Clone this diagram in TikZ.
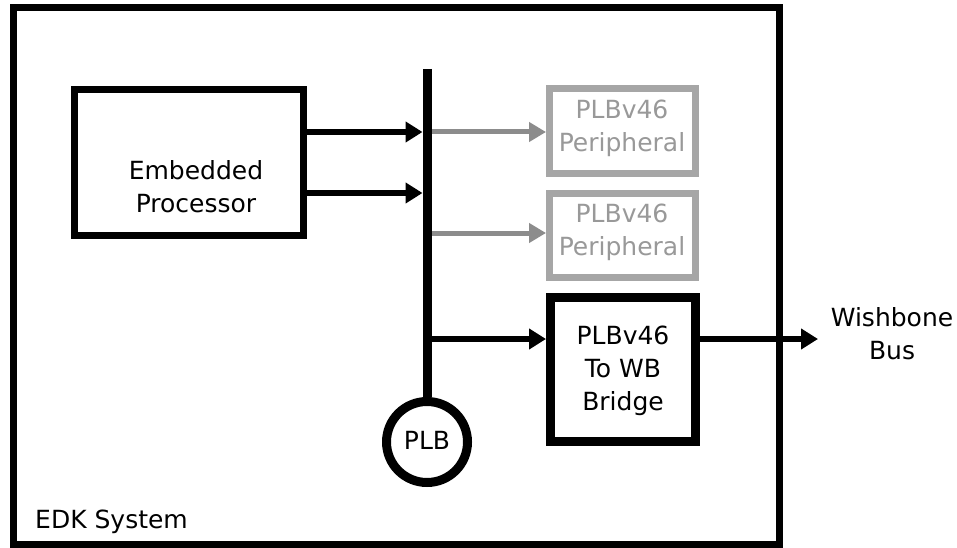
\documentclass[tikz,border=0pt]{standalone}
\usepackage{fontspec}
\setmainfont{DejaVu Sans}
\usetikzlibrary{arrows.meta}
\definecolor{lgray}{HTML}{8C8C8C}
\definecolor{bgray}{HTML}{A6A6A6}
\definecolor{tgray}{HTML}{999999}
\tikzset{
  lbl/.style={font=\fontsize{25}{33}\selectfont, align=center, inner sep=0pt},
  blkbox/.style={draw=black, line width=#1, fill=white, inner sep=0pt},
  grybox/.style={draw=bgray, line width=7pt, fill=white, inner sep=0pt},
  arr/.style={line width=6pt, -{Triangle[length=17pt,width=20pt]}},
  garr/.style={draw=lgray, line width=5pt, -{Triangle[length=17pt,width=19pt]}},
}
\begin{document}
\begin{tikzpicture}[x=1pt,y=-1pt]
\useasboundingbox (0,0) rectangle (957,548);
% outer frame
\draw[line width=7pt] (13,7.5) rectangle (779,544.5);
\node[lbl, anchor=base west] (edk) at (35,528) {EDK System};
% boxes
\node[blkbox=7pt, minimum width=229pt, minimum height=146pt] (proc) at (189,162.5) {};
\node[lbl] (proctxt) at (196,187) {Embedded\\Processor};
\node[grybox, minimum width=146pt, minimum height=85pt] (p1) at (622.5,131) {};
\node[lbl, text=tgray] (p1txt) at (622,128.5) {PLBv46\\Peripheral};
\node[grybox, minimum width=146pt, minimum height=84pt] (p2) at (622.5,235.5) {};
\node[lbl, text=tgray] (p2txt) at (622,232.5) {PLBv46\\Peripheral};
\node[blkbox=9pt, minimum width=145pt, minimum height=144pt] (br) at (623,369.5) {};
\node[lbl] (brtxt) at (623,371) {PLBv46\\To WB\\Bridge};
\node[lbl] (wb) at (892,334) {Wishbone\\Bus};
% bus
\coordinate (bustop) at (427,69);
\node[circle, draw, line width=9pt, minimum size=81pt, inner sep=0pt, fill=white] (plb) at (427,442) {};
\node[lbl] (plbtxt) at (427,440) {PLB};
% connectors
\draw[garr] (bustop |- 0,132) -- (p1.west |- 0,132);
\draw[garr] (bustop |- 0,233) -- (p2.west |- 0,233);
\draw[arr] (bustop |- 0,339) -- (br.west |- 0,339);
\coordinate (wbend) at (818,339);
\draw[arr] (br.east |- 0,339) -- (wbend);
\draw[line width=9pt] (bustop) -- (plb.north);
\draw[arr] (proc.east |- 0,132) -- ([xshift=-4.5pt]bustop |- 0,132);
\draw[arr] (proc.east |- 0,193) -- ([xshift=-4.5pt]bustop |- 0,193);
\end{tikzpicture}
\end{document}
